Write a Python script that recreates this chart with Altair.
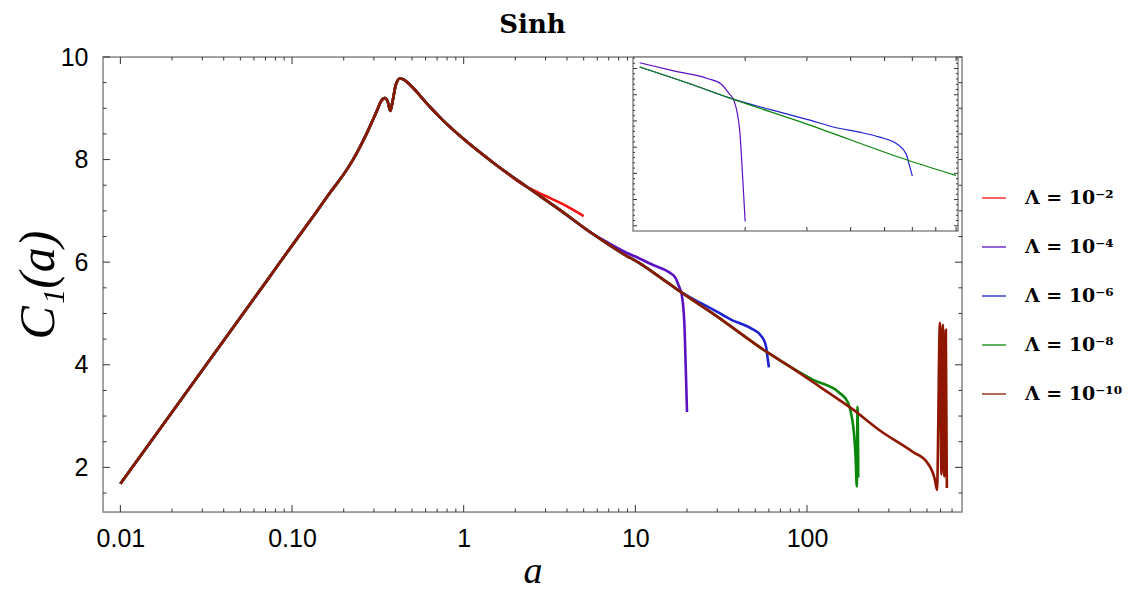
import altair as alt
import pandas as pd

# ---------------- data ----------------
series_names = ["Λ = 10⁻²", "Λ = 10⁻⁴", "Λ = 10⁻⁶", "Λ = 10⁻⁸", "Λ = 10⁻¹⁰"]
series_colors = ["#ff1010", "#5b10c2", "#1e22d0", "#0a870a", "#8f1700"]
chart_title = "Sinh"

# common trunk (the Λ = 10^-10 curve, which the others follow until they break away)
trunk_a = [0.01, 0.0721, 0.0847, 0.132, 0.166, 0.19, 0.208, 0.225, 0.242, 0.258,
           0.275, 0.29, 0.312, 0.329, 0.347, 0.361, 0.374, 0.386, 0.402, 0.425,
           0.448, 0.5, 0.6, 0.75, 1.0, 1.5, 2.33, 3.63, 5.66, 8.93,
           10.0, 13.9, 18.2, 30.0, 58.3, 80.0, 119.0, 185.0, 266.0, 414.0,
           500.0, 556.0, 572.0, 595.0, 607.0, 619.0, 631.0, 644.0, 653.0]
trunk_c = [1.68, 5.66, 5.99, 6.88, 7.35, 7.61, 7.80, 7.98, 8.17, 8.35,
           8.54, 8.71, 8.95, 9.13, 9.20, 9.13, 8.95, 9.15, 9.45, 9.58,
           9.56, 9.42, 9.12, 8.78, 8.40, 7.93, 7.47, 7.02, 6.55, 6.12,
           6.03, 5.71, 5.43, 4.94, 4.25, 3.96, 3.57, 3.13, 2.72, 2.30,
           2.10, 1.76, 1.56, 4.82, 1.86, 4.78, 1.82, 4.68, 1.60]

# where each curve leaves the trunk, and its own branch
trunk_until = [2.33, 5.66, 18.2, 80.0, 1000.0]
red_a = [2.6, 3.0, 3.63, 4.3, 5.0]
red_c = [7.39, 7.29, 7.16, 7.03, 6.90]
purple_a = [7.0, 8.93, 10.0, 12.6, 15.6, 17.1, 18.0, 18.6, 19.3, 19.7, 20.0]
purple_c = [6.37, 6.18, 6.11, 5.95, 5.81, 5.70, 5.52, 5.38, 4.81, 3.86, 3.08]
blue_a = [22.0, 23.8, 30.0, 37.0, 42.0, 48.4, 54.5, 57.7, 58.6, 60.0]
blue_c = [5.27, 5.21, 5.03, 4.86, 4.79, 4.69, 4.55, 4.36, 4.20, 3.95]
green_a = [108.0, 155.0, 173.0, 182.0, 188.0, 192.0, 195.0, 197.0, 199.0]
green_c = [3.71, 3.45, 3.27, 3.00, 2.65, 2.20, 1.63, 3.18, 1.80]
brown_a = []
brown_c = []
branches = [(red_a, red_c), (purple_a, purple_c), (blue_a, blue_c),
            (green_a, green_c), (brown_a, brown_c)]

# axis ticks and labels
x_tick_values = [0.01, 0.1, 1, 10, 100]
x_tick_labels = ["0.01", "0.10", "1", "10", "100"]
y_tick_values = [2, 4, 6, 8, 10]
y_tick_labels = ["2", "4", "6", "8", "10"]
x_minor = [m * d for d in [0.01, 0.1, 1, 10, 100] for m in range(2, 10) if m * d < 750]
y_minor = [1.5, 2.5, 3, 3.5, 4.5, 5, 5.5, 6.5, 7, 7.5, 8.5, 9, 9.5]
inset_x_ticks = [20, 30, 40, 50, 60, 70, 80]
inset_y_major = [3.0, 3.5, 4.0, 4.5, 5.0, 5.5, 6.0]
inset_y_minor = [3.1, 3.2, 3.3, 3.4, 3.6, 3.7, 3.8, 3.9, 4.1, 4.2, 4.3, 4.4, 4.6, 4.7,
                 4.8, 4.9, 5.1, 5.2, 5.3, 5.4, 5.6, 5.7, 5.8, 5.9, 6.1, 6.2]

rows = []
for name, until, (ba, bc) in zip(series_names, trunk_until, branches):
    for a, c in zip(trunk_a, trunk_c):
        if a <= until:
            rows.append((name, a, c))
    for a, c in zip(ba, bc):
        rows.append((name, a, c))
df = pd.DataFrame(rows, columns=["series", "a", "C"])
inset_df = df[df["series"].isin(series_names[1:4]) & (df["a"] >= 9.9) & (df["a"] <= 80.5)]


def label_expr(vals, labs):
    expr = "''"
    for v, l in reversed(list(zip(vals, labs))):
        expr = f"abs(datum.value - {v}) < {v * 1e-6} ? '{l}' : ({expr})"
    return expr


# ---------------- layout ----------------
W, H = 859, 455
FRAME = "#8a8a8a"
TICK = "#333333"

xs = alt.Scale(type="log", domain=[0.00792, 800], nice=False)
ys = alt.Scale(domain=[1.13, 10.0], nice=False, zero=False)

color = alt.Color(
    "series:N",
    scale=alt.Scale(domain=series_names, range=series_colors),
    legend=alt.Legend(
        title=None, orient="none", legendX=878, legendY=128,
        symbolType="stroke", symbolSize=576, symbolStrokeWidth=1.3,
        labelFont="DejaVu Serif", labelFontWeight="bold", labelFontSize=19,
        labelColor="black", rowPadding=26, labelOffset=18, padding=0, labelLimit=300,
    ),
)

x_axis = alt.Axis(
    values=x_tick_values, labelExpr=label_expr(x_tick_values, x_tick_labels),
    ticks=False, domain=False, grid=False, labelFont="Liberation Sans",
    labelFontSize=25, labelColor="black", labelPadding=14, labelFlush=False,
    labelOverlap=False, title="a", titleFont="Liberation Serif",
    titleFontStyle="italic", titleFontWeight="normal", titleFontSize=38,
    titleColor="black", titleX=W / 2, titleY=70, titleBaseline="alphabetic",
)
y_axis = alt.Axis(
    values=y_tick_values, labelExpr=label_expr(y_tick_values, y_tick_labels),
    ticks=False, domain=False, grid=False, labelFont="Liberation Sans",
    labelFontSize=25, labelColor="black", labelPadding=15, labelFlush=False,
    labelOverlap=False, title="C₁(a)", titleFont="Liberation Serif",
    titleFontStyle="italic", titleFontWeight="normal", titleFontSize=50,
    titleColor="black", titleX=-65, titleY=H / 2, titleAngle=-90,
    titleBaseline="middle", titleAlign="center",
)

line_base = alt.Chart(df).mark_line(strokeWidth=2.6, interpolate="monotone").encode(
    x=alt.X("a:Q", scale=xs, axis=x_axis),
    y=alt.Y("C:Q", scale=ys, axis=y_axis),
    color=color,
)
main_lines = [line_base.transform_filter(alt.FieldEqualPredicate(field="series", equal=s))
              for s in series_names]

one = pd.DataFrame({"k": [0]})
frame = alt.Chart(one).mark_rect(fill="white", fillOpacity=0, stroke=FRAME, strokeWidth=1.5).encode(
    x=alt.value(0), x2=alt.value(W), y=alt.value(0), y2=alt.value(H)
)
title_mark = alt.Chart(pd.DataFrame({"t": [chart_title]})).mark_text(
    font="DejaVu Serif", fontWeight="bold", fontSize=26, color="black",
    align="center", baseline="alphabetic"
).encode(text="t:N", x=alt.value(W / 2), y=alt.value(-24.5))


def xticks(vals, scale, axis, y0, y1):
    return alt.Chart(pd.DataFrame({"t": vals})).mark_rule(color=TICK, strokeWidth=1).encode(
        x=alt.X("t:Q", scale=scale, axis=axis), y=alt.value(y0), y2=alt.value(y1))


def yticks(vals, scale, axis, x0, x1):
    return alt.Chart(pd.DataFrame({"t": vals})).mark_rule(color=TICK, strokeWidth=1).encode(
        y=alt.Y("t:Q", scale=scale, axis=axis), x=alt.value(x0), x2=alt.value(x1))


main_ticks = [
    xticks(x_tick_values, xs, x_axis, H, H - 7), xticks(x_minor, xs, x_axis, H, H - 3.5),
    xticks(x_tick_values, xs, x_axis, 0, 7), xticks(x_minor, xs, x_axis, 0, 3.5),
    yticks(y_tick_values, ys, y_axis, 0, 7), yticks(y_minor, ys, y_axis, 0, 3.5),
    yticks(y_tick_values, ys, y_axis, W, W - 7), yticks(y_minor, ys, y_axis, W, W - 3.5),
]

main = alt.layer(*main_lines, frame, *main_ticks, title_mark)

# ---------------- inset ----------------
IX0, IX1, IY0, IY1 = 530, 855, 0, 174
ixs = alt.Scale(type="log", domain=[9.57, 81], range=[IX0, IX1], nice=False)
iys = alt.Scale(domain=[2.90, 6.22], range=[IY1, IY0], nice=False, zero=False)

inset_frame = alt.Chart(one).mark_rect(fill="white", stroke=FRAME, strokeWidth=1.5).encode(
    x=alt.value(IX0), x2=alt.value(IX1), y=alt.value(IY0), y2=alt.value(IY1)
)
inset_base = alt.Chart(inset_df).mark_line(strokeWidth=1.2, interpolate="monotone").encode(
    x=alt.X("a:Q", scale=ixs, axis=None),
    y=alt.Y("C:Q", scale=iys, axis=None),
    color=color,
)
inset_lines = [inset_base.transform_filter(alt.FieldEqualPredicate(field="series", equal=s))
               for s in series_names[1:4]]
inset_ticks = [
    xticks(inset_x_ticks, ixs, None, IY1, IY1 - 4), xticks(inset_x_ticks, ixs, None, IY0, IY0 + 4),
    yticks(inset_y_major, iys, None, IX0, IX0 + 4), yticks(inset_y_minor, iys, None, IX0, IX0 + 2),
    yticks(inset_y_major, iys, None, IX1, IX1 - 4), yticks(inset_y_minor, iys, None, IX1, IX1 - 2),
]
inset = alt.layer(inset_frame, *inset_lines, *inset_ticks)

chart = alt.layer(main, inset).resolve_scale(x="independent", y="independent").properties(
    width=W, height=H,
    autosize=alt.AutoSizeParams(type="none"),
    padding={"left": 95, "top": 49, "right": 165, "bottom": 79},
).configure_view(stroke=None).configure(background="white")

chart.save("out.html", embed_options={"renderer": "svg", "actions": False})
